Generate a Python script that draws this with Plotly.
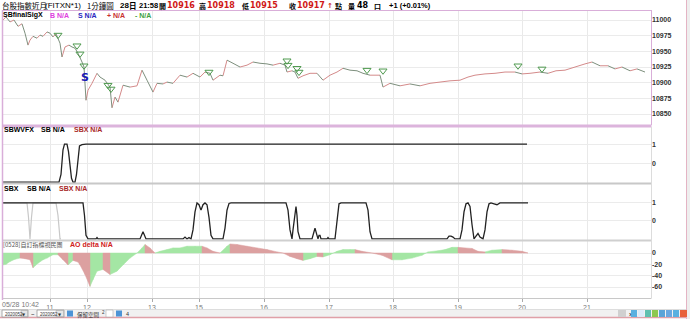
import plotly.graph_objects as go

# ---------------- data ----------------
# time axis: one slot per bar position along the session
tick_bars = [50, 87, 152, 199, 264, 329, 393, 458, 522, 587]
tick_text = ["11", "12", "13", "15", "16", "17", "18", "19", "20", "21"]
start_label = "05/28 10:42"

price_bar = [3, 6, 10, 14, 18, 22, 25, 28, 30, 33, 37, 40, 43, 47, 50, 53, 56, 60, 62, 65,
             69, 72, 75, 78, 82, 84, 86, 88, 92, 97, 100, 105, 110, 112, 115, 118, 123, 130, 137, 142,
             147, 153, 157, 163, 167, 173, 180, 187, 193, 200, 205, 210, 213, 220, 223, 227, 233, 240, 247, 253,
             260, 267, 273, 280, 285, 287, 292, 295, 298, 303, 310, 317, 323, 330, 337, 343, 350, 357, 363, 370,
             380, 383, 390, 400, 410, 420, 430, 440, 450, 460, 468, 475, 485, 495, 505, 515, 522, 530, 540, 548,
             556, 565, 575, 585, 592, 600, 608, 615, 622, 630, 637, 645]
price_val = [11000, 11005, 10997, 11000, 10990, 10994, 10979, 10960, 10968, 10974,
             10971, 10976, 10974, 10981, 10979, 10973, 10978, 10963, 10941, 10957,
             10960, 10957, 10955, 10947, 10933, 10925, 10872, 10888, 10899, 10915,
             10909, 10904, 10893, 10860, 10877, 10869, 10896, 10893, 10895, 10920,
             10904, 10885, 10899, 10898, 10901, 10899, 10912, 10909, 10915, 10909,
             10917, 10915, 10904, 10912, 10911, 10936, 10931, 10925, 10928, 10933,
             10931, 10930, 10928, 10931, 10928, 10917, 10919, 10917, 10907, 10911,
             10915, 10915, 10904, 10912, 10917, 10923, 10920, 10919, 10915, 10912,
             10912, 10893, 10899, 10895, 10898, 10895, 10899, 10901, 10903, 10904,
             10909, 10912, 10914, 10915, 10917, 10917, 10914, 10915, 10917, 10915,
             10919, 10920, 10925, 10930, 10933, 10927, 10927, 10922, 10925, 10919,
             10922, 10917]

sig_bar = [58, 77, 80, 84, 108, 111, 209, 287, 288, 297, 299, 367, 383, 518, 542]
sig_val = [10976, 10959, 10946, 10927, 10896, 10890, 10917, 10935, 10928, 10923, 10917, 10920, 10919, 10927, 10922]
s_bar = [85]
s_val = [10907]

wvf_bar = [2, 59, 61, 62, 63, 64.5, 67, 68.5, 70, 71.5, 73, 75, 76.5, 78, 79.5, 82, 86, 527]
wvf_val = [-1, -1, -0.6, 0, 0.7, 1, 1, 0.6, -0.2, -0.8, -1, -1, -0.6, 0.3, 0.9, 0.97, 1, 1]

sbx_bar = [3, 83, 84.5, 86, 88, 96, 97, 98, 140, 143, 146, 183, 185, 187, 189, 191, 193, 195, 197, 199,
           201, 203, 205, 207, 209, 211, 213, 223, 225, 227, 229, 231, 286, 288, 290, 292, 293, 295, 296, 297,
           298, 300, 312, 314, 315, 317, 318, 319, 320, 321, 327, 328, 329, 335, 337, 339, 341, 366, 368, 370,
           372, 447, 449, 451, 453, 455, 460, 462, 464, 466, 468, 470, 472, 474, 476, 478, 480, 483, 485, 487,
           489, 491, 494, 497, 500, 528]
sbx_val = [1, 1, 0.3, -0.8, -1, -1, -0.93, -1, -1, -0.6, -1, -1, -0.9, -1, -0.92, -1, -0.5, 0.5, 1, 0.9,
           0.6, 0.9, 1, 0.9, 0.2, -0.8, -1, -1, -0.4, 0.6, 0.97, 1, 1, 0.6, -0.5, -1, -0.5, 0.6, 0.8, 0.3,
           -0.6, -1, -1, -0.6, -0.4, -0.8, -1, -0.8, -0.8, -1, -1, -0.93, -1, -1, 0, 0.95, 1, 1, 0.6, -0.6,
           -1, -1, -0.85, -0.85, -0.9, -1, -1, -0.5, 0.5, 0.95, 1, 0.8, -0.2, -1, -0.85, -0.7, -0.9, -1, -0.5, 0.5,
           0.95, 1, 0.95, 0.9, 1, 1]
sb_bar = [3, 27, 28.5, 30, 31.5, 33, 56, 58, 60, 61]
sb_val = [1, 1, 0.2, -1, 0.2, 1, 1, 0.3, -1, -1]

ao_bar = [3, 6, 10, 15, 20, 25, 30, 33, 38, 43, 47, 53, 58, 63, 68, 73, 78, 80, 85, 90,
          93, 97, 103, 110, 117, 123, 130, 137, 142, 145, 150, 155, 160, 167, 173, 180, 187, 195, 202, 207,
          213, 220, 227, 230, 237, 247, 257, 267, 277, 283, 290, 297, 303, 310, 317, 323, 330, 337, 343, 350,
          355, 362, 372, 382, 392, 402, 412, 422, 428, 438, 445, 452, 458, 465, 472, 478, 485, 492, 502, 512,
          522, 528]
ao_val = [-21, -20, -15, -11, -9, -10, -12, -26, -18, -12, -9, -3, -3, -12, -21, -13, -16, -21, -38, -59,
          -47, -32, -29, -38, -32, -21, -9, 0, 9, 15, 9, 0, 3, 6, 9, 9, 12, 12, 12, 9,
          3, 0, 12, 16, 15, 12, 9, 6, 2, 0, -6, -10, -13, -10, -6, -7, -3, 3, 6, 6,
          6, 3, 0, -4, -12, -12, -9, -4, 2, 4, 6, 10, 10, 9, 8, 3, 2, 5, 6, 5,
          3, 0]

price_ticks = [11000, 10975, 10950, 10925, 10900, 10875, 10850]

# ---------------- geometry ----------------
W, H = 690, 319
L, R, T, B = 2, 651, 10, 298
PW, PH = R - L, B - T


def xp(px):
    return (px - L) / PW


def yp(py):
    return (B - py) / PH


fig = go.Figure()

# price line, coloured by direction
ux, uy, dx, dy = [], [], [], []
for i in range(len(price_bar) - 1):
    sx = [price_bar[i], price_bar[i + 1], None]
    sy = [price_val[i], price_val[i + 1], None]
    if price_val[i + 1] >= price_val[i]:
        ux += sx; uy += sy
    else:
        dx += sx; dy += sy
fig.add_trace(go.Scatter(x=ux, y=uy, mode="lines", line=dict(color="#d48a8a", width=1),
                         xaxis="x", yaxis="y", hoverinfo="skip"))
fig.add_trace(go.Scatter(x=dx, y=dy, mode="lines", line=dict(color="#7d8f7d", width=1),
                         xaxis="x", yaxis="y", hoverinfo="skip"))
fig.add_trace(go.Scatter(x=sig_bar, y=sig_val, mode="markers",
                         marker=dict(symbol="triangle-down-open", size=7, color="#4f9a4f", line=dict(width=1)),
                         xaxis="x", yaxis="y"))
fig.add_trace(go.Scatter(x=s_bar, y=s_val, mode="text", text=["<b>S</b>"],
                         textfont=dict(family="DejaVu Sans", size=11, color="#1a1ab4"),
                         xaxis="x", yaxis="y"))

# SBWVFX
fig.add_trace(go.Scatter(x=wvf_bar, y=wvf_val, mode="lines", line=dict(color="#222222", width=1.3),
                         xaxis="x2", yaxis="y2"))
# SBX
fig.add_trace(go.Scatter(x=sb_bar, y=sb_val, mode="lines", line=dict(color="#c8c8c8", width=1.2),
                         xaxis="x3", yaxis="y3"))
fig.add_trace(go.Scatter(x=sbx_bar, y=sbx_val, mode="lines", line=dict(color="#222222", width=1.3),
                         xaxis="x3", yaxis="y3"))

# AO histogram as direction coloured areas
gx, gy, rx, ry = [], [], [], []
for i in range(len(ao_bar) - 1):
    x0, x1 = ao_bar[i], ao_bar[i + 1]
    v0, v1 = ao_val[i], ao_val[i + 1]
    px_ = [x0, x1, x1, x0, x0, None]
    py_ = [v0, v1, 0, 0, v0, None]
    if v1 >= v0:
        gx += px_; gy += py_
    else:
        rx += px_; ry += py_
fig.add_trace(go.Scatter(x=gx, y=gy, mode="lines", fill="toself", fillcolor="#a4e6a4",
                         line=dict(width=0.5, color="#a4e6a4"), xaxis="x4", yaxis="y4"))
fig.add_trace(go.Scatter(x=rx, y=ry, mode="lines", fill="toself", fillcolor="#dca0a0",
                         line=dict(width=0.5, color="#dca0a0"), xaxis="x4", yaxis="y4"))

xcommon = dict(range=[L, R], showgrid=True, gridcolor="#e9e9e9", gridwidth=1, zeroline=False,
               tickvals=tick_bars, ticktext=tick_text, showline=False, fixedrange=True)
ytick_font = dict(family="Liberation Sans", size=7, color="#333333", weight="bold")
ycommon = dict(side="right", showgrid=True, gridcolor="#ebebeb", zeroline=False, showline=False,
               tickfont=ytick_font, ticks="", fixedrange=True)

fig.update_layout(
    width=W, height=H, autosize=False,
    margin=dict(l=L, r=W - R, t=T, b=H - B, pad=0),
    paper_bgcolor="white", plot_bgcolor="white", showlegend=False,
    xaxis=dict(xcommon, anchor="y", showticklabels=False),
    xaxis2=dict(xcommon, anchor="y2", matches="x", showticklabels=False),
    xaxis3=dict(xcommon, anchor="y3", matches="x", showticklabels=False),
    xaxis4=dict(xcommon, anchor="y4", matches="x", showticklabels=True, ticks="outside",
                ticklen=3, tickcolor="#aaaaaa",
                tickfont=dict(family="Liberation Sans", size=7, color="#7a7a7a")),
    yaxis=dict(ycommon, anchor="x", domain=[yp(125), 1], range=[10832.5, 11016], tickvals=price_ticks,
               ticktext=[str(v) for v in price_ticks]),
    yaxis2=dict(ycommon, anchor="x2", domain=[yp(183), yp(127)], range=[-1.05, 1.9], tickvals=[1, 0],
                ticktext=["1", "0"]),
    yaxis3=dict(ycommon, anchor="x3", domain=[yp(240), yp(184)], range=[-1.06, 2.05], tickvals=[1, 0],
                ticktext=["1", "0"]),
    yaxis4=dict(ycommon, anchor="x4", domain=[0, yp(241)], range=[-79.4, 21.2], tickvals=[0, -20, -40, -60],
                ticktext=["0", "-20", "-40", "-60"]),
)

shapes = []


def hline(py, x0, x1, color, width):
    shapes.append(dict(type="line", xref="paper", yref="paper", x0=xp(x0), x1=xp(x1), y0=yp(py), y1=yp(py),
                       line=dict(color=color, width=width)))


def vline(px, y0, y1, color, width):
    shapes.append(dict(type="line", xref="paper", yref="paper", x0=xp(px), x1=xp(px), y0=yp(y0), y1=yp(y1),
                       line=dict(color=color, width=width)))


def rect(x0, y0, x1, y1, fill, color="rgba(0,0,0,0)", width=0, layer="above"):
    shapes.append(dict(type="rect", xref="paper", yref="paper", x0=xp(x0), x1=xp(x1), y0=yp(y1), y1=yp(y0),
                       fillcolor=fill, line=dict(color=color, width=width), layer=layer))


lilac = "#d9aed9"
hline(10.5, 2, 651.5, lilac, 1)
hline(126, 2, 651.5, "#dcb4dc", 3)
hline(183.5, 2, 651.5, "#c8c8c8", 2)
hline(240.5, 2, 651.5, "#cfcfcf", 2)
hline(298.5, 2, 651.5, "#c8c8c8", 1)
vline(2.5, 10, 300, lilac, 1.5)
vline(651.5, 10, 125, lilac, 1)
vline(651.5, 127, 298, "#dcdcdc", 1)
# outer frame and toolbar row
rect(0, 309.5, 690, 317, "#f1f1f1", layer="below")
hline(309.5, 0, 690, "#dddddd", 1)
hline(317.5, 0, 690, "#e0a0a8", 1.5)
rect(687, 0, 690, 319, "#eeeeee")
vline(686.5, 0, 319, "#e4b4c4", 1)
rect(2, 310, 28, 317, "white", "#9a9a9a", 0.8)
rect(21, 310.5, 27.5, 316.5, "#e6e6e6", "#9a9a9a", 0.5)
rect(37, 310, 64, 317, "white", "#9a9a9a", 0.8)
rect(56, 310.5, 63.5, 316.5, "#e6e6e6", "#9a9a9a", 0.5)
rect(67, 310.5, 73, 316.5, "#4d94d6")
rect(106, 310, 113, 317, "white", "#b0b0b0", 0.6)
rect(116, 310.5, 122, 316.5, "#4d94d6")
rect(618, 310, 626, 317, "#d0d0d0")
for i, col in enumerate(["#5ab0e0", "#dcecfa", "#60c0b0", "#8cc850", "#5aa4d8", "#6aa8e0", "#5ab0e0"]):
    rect(631 + i * 7, 310, 637 + i * 7, 317, col)
rect(680, 310, 687, 317, "#e8603a")
fig.update_layout(shapes=shapes)

anns = []


def ann(px, py, text, color="#000000", size=8, family="Liberation Sans", anchor="left"):
    anns.append(dict(xref="paper", yref="paper", x=xp(px), y=yp(py), text=text, showarrow=False,
                     xanchor=anchor, yanchor="middle", font=dict(family=family, size=size, color=color)))


cjk = "Noto Sans CJK TC"
red = "#d01818"
# header
ann(0, 5.5, "台股指數近月", size=7.5, family=cjk)
ann(43, 5.5, "(FITXN*1)", size=8)
ann(85, 5.5, "1分鐘圖", size=7.5, family=cjk)
ann(118, 5.5, "<b>28</b>", size=8)
ann(127, 5.5, "<b>日</b>", size=7.5, family=cjk)
ann(137, 5.5, "<b>21:58</b>", size=7.5)
ann(157, 5.5, "<b>開</b>", size=7, family=cjk)
ann(165, 5.5, "<b>10916</b>", red, 8, "DejaVu Sans")
ann(197, 5.5, "<b>高</b>", size=7, family=cjk)
ann(205, 5.5, "<b>10918</b>", red, 8, "DejaVu Sans")
ann(240, 5.5, "<b>低</b>", size=7, family=cjk)
ann(248, 5.5, "<b>10915</b>", red, 8, "DejaVu Sans")
ann(287, 5.5, "<b>收</b>", size=7, family=cjk)
ann(295, 5.5, "<b>10917</b>", red, 8, "DejaVu Sans")
ann(325, 5.5, "<b>↑</b>", red, 7, "DejaVu Sans")
ann(333, 5.5, "<b>點</b>", size=7, family=cjk)
ann(346, 5.5, "<b>量</b>", size=7, family=cjk)
ann(355, 5.5, "<b>48</b>", size=8, family="DejaVu Sans")
ann(372, 5.5, "<b>口</b>", size=7, family=cjk)
ann(387, 5.5, "<b>+1 (+0.01%)</b>", size=7.5)
# panel titles
ann(1, 15, "<b>SBfinalSigX</b>", size=7)
ann(48, 15, "<b>B N/A</b>", "#e040e0", 7)
ann(76, 15, "<b>S N/A</b>", "#2828c0", 7)
ann(105, 15, "<b>+ N/A</b>", "#c83030", 7)
ann(133, 15, "<b>- N/A</b>", "#40a040", 7)
ann(2, 129.5, "<b>SBWVFX</b>", size=7)
ann(39, 129.5, "<b>SB N/A</b>", size=7)
ann(72, 129.5, "<b>SBX N/A</b>", "#a82828", 7)
ann(2, 188, "<b>SBX</b>", size=7)
ann(25, 188, "<b>SB N/A</b>", size=7)
ann(57, 188, "<b>SBX N/A</b>", "#a82828", 7)
ann(1, 244, "[0528]自訂指標視民團", "#555555", 6, cjk)
ann(68, 244, "<b>AO delta N/A</b>", "#d02020", 7)
# axis start label
ann(20, 304, start_label, "#7a7a7a", 7, anchor="center")
# toolbar texts
ann(2.5, 314, "2020052", "#333333", 4.5)
ann(24.2, 314, "▼", "#333333", 4, "DejaVu Sans", anchor="center")
ann(37.5, 314, "2020052", "#333333", 4.5)
ann(59.7, 314, "▼", "#333333", 4, "DejaVu Sans", anchor="center")
ann(32.5, 314, "~", "#333333", 6, anchor="center")
ann(75, 314.5, "保留空間", "#333333", 5.5, cjk)
ann(100, 312, "2", "#333333", 4.5)
ann(124, 314, "4", "#333333", 5.5)
ann(627, 314, "<b>›</b>", "#333333", 7)
fig.update_layout(annotations=anns)

fig.write_html("out.html")
